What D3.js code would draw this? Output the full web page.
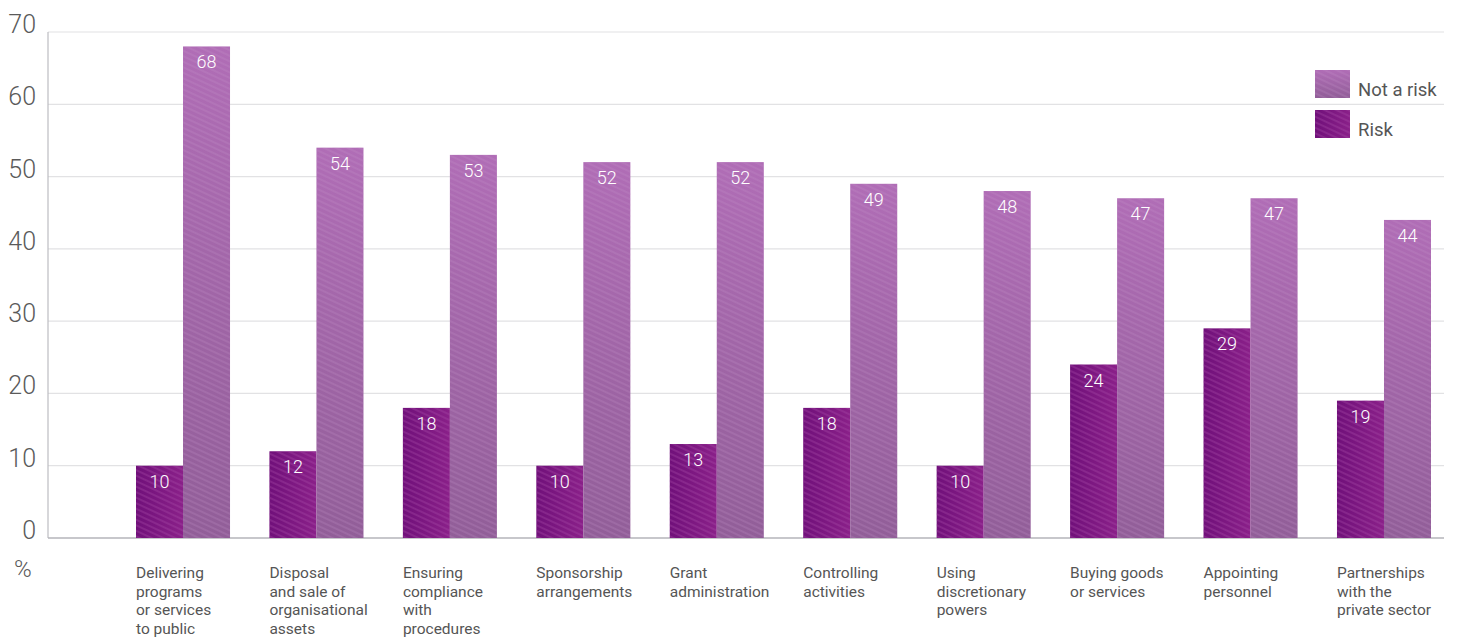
<!DOCTYPE html>
<html>
<head>
<meta charset="utf-8">
<script src="https://cdn.jsdelivr.net/npm/d3@7/dist/d3.min.js"></script>
<style>
  html, body { margin: 0; padding: 0; background: #fff; }
  svg { display: block; font-family: Roboto, "Open Sans", sans-serif; }
</style>
</head>
<body>
<svg id="chart" width="1459" height="637"></svg>
<script>
// Perceived corruption risk by activity, % of respondents
const categories = [
  ["Delivering", "programs", "or services", "to public"],
  ["Disposal", "and sale of", "organisational", "assets"],
  ["Ensuring", "compliance", "with", "procedures"],
  ["Sponsorship", "arrangements"],
  ["Grant", "administration"],
  ["Controlling", "activities"],
  ["Using", "discretionary", "powers"],
  ["Buying goods", "or services"],
  ["Appointing", "personnel"],
  ["Partnerships", "with the", "private sector"]
];
const riskValues    = [10, 12, 18, 10, 13, 18, 10, 24, 29, 19];
const notRiskValues = [68, 54, 53, 52, 52, 49, 48, 47, 47, 44];
const seriesNames = ["Risk", "Not a risk"];
const yTicks = [0, 10, 20, 30, 40, 50, 60, 70];

const svg = d3.select("#chart");
const plot = { left: 48, right: 1444, top: 32, bottom: 538 };

const y = d3.scaleLinear().domain([0, 70]).range([plot.bottom, plot.top]);
const x0 = d3.scaleBand()
  .domain(d3.range(categories.length))
  .range([136, 1431])
  .paddingInner(0.2954)
  .paddingOuter(0);
const x1 = d3.scaleBand().domain(seriesNames).range([0, x0.bandwidth()]);

// Fills: a gradient base with fine diagonal stripes on top
const defs = svg.append("defs");
function stripedFill(id, c0, c1, dir, stripe, stripeOpacity) {
  const g = defs.append("linearGradient").attr("id", id + "-grad")
    .attr("x1", 0).attr("y1", 0)
    .attr("x2", dir === "h" ? 1 : 0).attr("y2", dir === "h" ? 0 : 1);
  g.append("stop").attr("offset", "0%").attr("stop-color", c0);
  g.append("stop").attr("offset", "100%").attr("stop-color", c1);
  const p = defs.append("pattern").attr("id", id + "-stripes")
    .attr("patternUnits", "userSpaceOnUse")
    .attr("width", 5).attr("height", 5)
    .attr("patternTransform", "rotate(25)");
  p.append("line").attr("x1", 0).attr("y1", 1).attr("x2", 5).attr("y2", 1)
    .attr("stroke", stripe).attr("stroke-opacity", stripeOpacity).attr("stroke-width", 1.4);
}
stripedFill("risk", "#70107a", "#8a2089", "h", "#a64aa6", 0.5);
stripedFill("notrisk", "#b06db6", "#915e98", "v", "#c896cc", 0.3);
const fillId = { "Risk": "risk", "Not a risk": "notrisk" };

// Grid lines
svg.append("g").selectAll("line")
  .data(yTicks.filter(d => d > 0))
  .join("line")
  .attr("x1", plot.left).attr("x2", plot.right)
  .attr("y1", d => y(d)).attr("y2", d => y(d))
  .attr("stroke", "#e2e2e4").attr("stroke-width", 1.2);

// Axis lines
svg.append("line")
  .attr("x1", plot.left).attr("x2", plot.left)
  .attr("y1", plot.top).attr("y2", plot.bottom)
  .attr("stroke", "#bdbdc2").attr("stroke-width", 1.2);
svg.append("line")
  .attr("x1", plot.left).attr("x2", plot.right)
  .attr("y1", plot.bottom).attr("y2", plot.bottom)
  .attr("stroke", "#b5b5ba").attr("stroke-width", 1.4);

// Y tick labels
svg.append("g").selectAll("text")
  .data(yTicks)
  .join("text")
  .attr("x", 36).attr("y", d => y(d) + 1)
  .attr("text-anchor", "end")
  .attr("font-size", 25).attr("font-weight", 300)
  .attr("fill", "#5a5a5a")
  .text(d => d);

svg.append("text")
  .attr("x", 14).attr("y", 577)
  .attr("font-size", 24).attr("font-weight", 300)
  .attr("fill", "#5a5a5a")
  .text("%");

// Bars
const groups = svg.append("g").selectAll("g")
  .data(categories.map((c, i) => ({ i, vals: [riskValues[i], notRiskValues[i]] })))
  .join("g")
  .attr("transform", d => `translate(${x0(d.i)},0)`);

const bars = groups.selectAll("g.bar")
  .data(d => d.vals.map((v, k) => ({ key: seriesNames[k], value: v })))
  .join("g").attr("class", "bar");

bars.append("rect")
  .attr("x", d => x1(d.key)).attr("width", x1.bandwidth())
  .attr("y", d => y(d.value)).attr("height", d => y(0) - y(d.value))
  .attr("fill", d => `url(#${fillId[d.key]}-grad)`);
bars.append("rect")
  .attr("x", d => x1(d.key)).attr("width", x1.bandwidth())
  .attr("y", d => y(d.value)).attr("height", d => y(0) - y(d.value))
  .attr("fill", d => `url(#${fillId[d.key]}-stripes)`);

bars.append("text")
  .attr("x", d => x1(d.key) + x1.bandwidth() / 2)
  .attr("y", d => y(d.value) + 22)
  .attr("text-anchor", "middle")
  .attr("font-size", 18).attr("font-weight", 300).attr("fill", "#fff")
  .text(d => d.value);

// Category labels
svg.append("g").selectAll("text")
  .data(categories)
  .join("text")
  .attr("x", (d, i) => x0(i))
  .attr("y", 578)
  .attr("font-size", 15.5).attr("fill", "#555")
  .each(function(lines) {
    d3.select(this).selectAll("tspan")
      .data(lines)
      .join("tspan")
      .attr("x", d3.select(this).attr("x"))
      .attr("dy", (d, j) => j === 0 ? 0 : 18.5)
      .text(d => d);
  });

// Legend
const legend = svg.append("g").attr("transform", "translate(1315,70)");
const legendItems = ["Not a risk", "Risk"];
legendItems.forEach((name, k) => {
  const g = legend.append("g").attr("transform", `translate(0,${k * 40})`);
  g.append("rect").attr("width", 35).attr("height", 28)
    .attr("fill", `url(#${fillId[name]}-grad)`);
  g.append("rect").attr("width", 35).attr("height", 28)
    .attr("fill", `url(#${fillId[name]}-stripes)`);
  g.append("text").attr("x", 43).attr("y", 26)
    .attr("font-size", 18.5).attr("fill", "#555")
    .text(name);
});
</script>
</body>
</html>
